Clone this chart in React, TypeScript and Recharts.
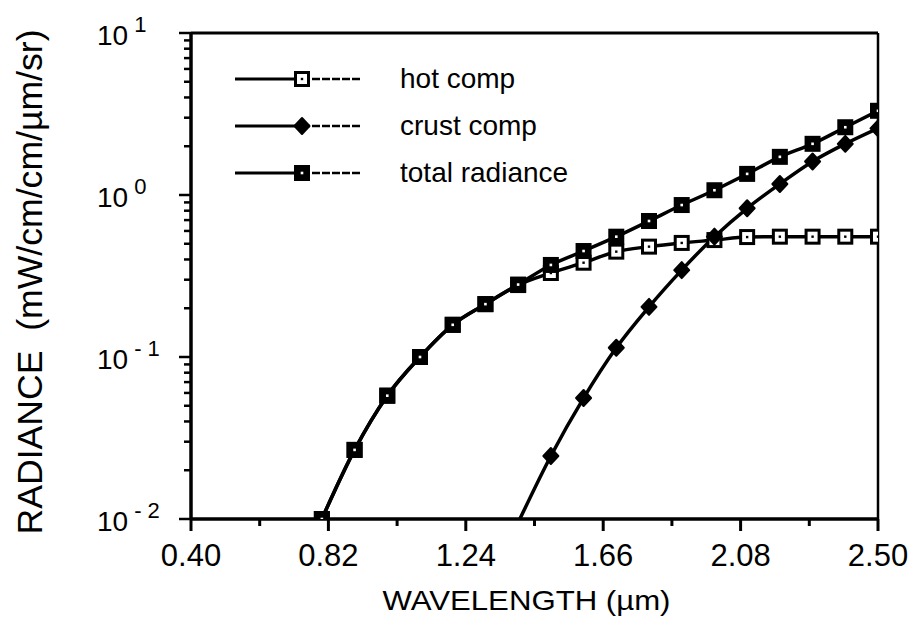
import React from 'react';
import { LineChart, Line, XAxis, YAxis, ReferenceLine, Legend } from 'recharts';

const FONT = '"Liberation Sans", Arial, Helvetica, sans-serif';

// wavelength (µm)
const wavelengths = [0.8, 0.9, 1.0, 1.1, 1.2, 1.3, 1.4, 1.5, 1.6, 1.7, 1.8, 1.9, 2.0, 2.1, 2.2, 2.3, 2.4, 2.5];
// radiance (mW/cm/cm/µm/sr)
const hotComp = [0.010, 0.0267, 0.0577, 0.100, 0.158, 0.212, 0.278, 0.330, 0.382, 0.447, 0.480, 0.506, 0.527, 0.550, 0.553, 0.553, 0.553, 0.553];
const crustComp = [null, null, null, null, null, null, 0.0095, 0.0245, 0.0558, 0.114, 0.204, 0.344, 0.553, 0.828, 1.17, 1.61, 2.07, 2.58];
const totalRadiance = [0.010, 0.0267, 0.0577, 0.100, 0.158, 0.212, 0.280, 0.370, 0.451, 0.553, 0.691, 0.867, 1.07, 1.35, 1.72, 2.07, 2.62, 3.31];

const seriesKeys = ['hot', 'crust', 'total'];
const seriesNames = ['hot comp', 'crust comp', 'total radiance'];

const xMajorTicks = [0.4, 0.82, 1.24, 1.66, 2.08, 2.5];
const xMajorLabels = ['0.40', '0.82', '1.24', '1.66', '2.08', '2.50'];
const xMinorTicks = [0.61, 1.03, 1.45, 1.87, 2.29];

const yMajorTicks = [0.01, 0.1, 1, 10];
const yMajorExponents = ['- 2', '- 1', '0', '1'];
const yMinorTicks = [0.02, 0.03, 0.04, 0.05, 0.06, 0.07, 0.08, 0.09, 0.2, 0.3, 0.4, 0.5, 0.6, 0.7, 0.8, 0.9, 2, 3, 4, 5, 6, 7, 8, 9];

const Y_DOMAIN: [number, number] = [0.01, 10];
const X_DOMAIN: [number, number] = [0.4, 2.5];

const data = wavelengths.map((x, i) => ({
  x,
  hot: hotComp[i],
  crust: crustComp[i],
  total: totalRadiance[i],
}));

const xTicks = [...xMajorTicks, ...xMinorTicks].sort((a, b) => a - b);
const yTicks = [...yMajorTicks, ...yMinorTicks].sort((a, b) => a - b);

const findIdx = (arr: number[], v: number) => arr.findIndex((t) => Math.abs(t - v) < 1e-9);

const XTick = (props: any) => {
  const { x, y, payload } = props;
  const mi = findIdx(xMajorTicks, payload.value);
  const major = mi >= 0;
  return (
    <g>
      <line x1={x} x2={x} y1={y} y2={y + (major ? 12 : 7)} stroke="#000" strokeWidth={3} />
      {major && (
        <text x={x} y={y + 47} textAnchor="middle" fontFamily={FONT} fontSize={31} fill="#000">
          {xMajorLabels[mi]}
        </text>
      )}
    </g>
  );
};

const YTick = (props: any) => {
  const { x, y, payload } = props;
  const mi = findIdx(yMajorTicks, payload.value);
  const major = mi >= 0;
  return (
    <g>
      <line x1={x - (major ? 12 : 7)} x2={x} y1={y} y2={y} stroke="#000" strokeWidth={2.5} />
      {major && (
        <text x={x - 94} y={y + 12} fontFamily={FONT} fontSize={28} fill="#000">
          10
          <tspan dx={6} dy={-13} fontSize={22}>{yMajorExponents[mi]}</tspan>
        </text>
      )}
    </g>
  );
};

const HotMarker = ({ cx, cy }: { cx: number; cy: number }) => (
  <g>
    <rect x={cx - 6.5} y={cy - 6.5} width={13} height={13} fill="#fff" stroke="#000" strokeWidth={3} />
    <rect x={cx - 1.2} y={cy - 1.2} width={2.4} height={2.4} fill="#000" />
  </g>
);
const CrustMarker = ({ cx, cy }: { cx: number; cy: number }) => (
  <path d={`M${cx},${cy - 8} L${cx + 7.5},${cy} L${cx},${cy + 8} L${cx - 7.5},${cy} Z`} fill="#000" stroke="#000" strokeWidth={2} strokeLinejoin="round" />
);
const TotalMarker = ({ cx, cy }: { cx: number; cy: number }) => (
  <g>
    <rect x={cx - 8} y={cy - 8} width={16} height={16} fill="#000" />
    <rect x={cx - 1.3} y={cy - 1.3} width={2.6} height={2.6} fill="#fff" />
  </g>
);

const makeDot = (key: string, Marker: any) => (props: any) => {
  const { cx, cy, index, payload } = props;
  const v = payload ? payload[key] : null;
  if (cx == null || cy == null || v == null || v < Y_DOMAIN[0]) return <g key={`${key}-${index}`} />;
  return (
    <g key={`${key}-${index}`}>
      <Marker cx={cx} cy={cy} />
    </g>
  );
};

const markerFor: Record<string, any> = { hot: HotMarker, crust: CrustMarker, total: TotalMarker };

const renderLegend = () => (
  <svg width={330} height={150} style={{ overflow: 'visible', display: 'block' }}>
    {seriesKeys.map((key, i) => {
      const cy = 20 + i * 47;
      const M = markerFor[key];
      return (
        <g key={key}>
          <line x1={0} x2={67} y1={cy} y2={cy} stroke="#000" strokeWidth={3} />
          <line x1={67} x2={125} y1={cy} y2={cy} stroke="#000" strokeWidth={2.5} strokeDasharray="8 2" />
          <M cx={67} cy={cy} />
          <text x={165} y={cy + 9} fontFamily={FONT} fontSize={28} fill="#000">
            {seriesNames[i]}
          </text>
        </g>
      );
    })}
  </svg>
);

const XTitle = (props: any) => {
  const vb = props.viewBox || { x: 0, y: 0, width: 0, height: 0 };
  return (
    <text
      x={vb.x + vb.width / 2 - 8}
      y={vb.y + 91}
      textAnchor="middle"
      fontFamily={FONT}
      fontSize={28}
      fill="#000"
      textLength={288}
      lengthAdjust="spacingAndGlyphs"
    >
      WAVELENGTH (µm)
    </text>
  );
};

const YTitle = (props: any) => {
  const vb = props.viewBox || { x: 0, y: 0, width: 0, height: 0 };
  const cx = 34;
  const cy = vb.y + vb.height / 2 + 6;
  return (
    <text
      transform={`translate(${cx},${cy}) rotate(-90)`}
      textAnchor="middle"
      fontFamily={FONT}
      fontSize={35}
      fill="#000"
      textLength={505}
      lengthAdjust="spacingAndGlyphs"
      style={{ whiteSpace: 'pre' }}
    >
      {'RADIANCE  (mW/cm/cm/µm/sr)'}
    </text>
  );
};

export default function App() {
  return (
    <div style={{ width: 909, height: 620, background: '#fff' }}>
      <LineChart width={909} height={620} data={data} margin={{ top: 25, right: 39, bottom: 0, left: 0 }}>
        <XAxis
          dataKey="x"
          type="number"
          domain={X_DOMAIN}
          ticks={xTicks}
          interval={0}
          tickSize={0}
          tickMargin={0}
          tickLine={false}
          tick={XTick}
          axisLine={{ stroke: '#000', strokeWidth: 3.5 }}
          height={109}
          allowDataOverflow
          label={{ content: XTitle }}
        />
        <YAxis
          type="number"
          scale="log"
          domain={Y_DOMAIN}
          ticks={yTicks}
          interval={0}
          tickSize={0}
          tickMargin={0}
          tickLine={false}
          tick={YTick}
          axisLine={{ stroke: '#000', strokeWidth: 3.5 }}
          width={183}
          allowDataOverflow
          label={{ content: YTitle }}
        />
        <ReferenceLine y={Y_DOMAIN[1]} stroke="#000" strokeWidth={3} />
        <ReferenceLine x={X_DOMAIN[1]} stroke="#000" strokeWidth={2.5} />
        <Legend
          content={renderLegend}
          layout="horizontal"
          verticalAlign="middle"
          align="center"
          wrapperStyle={{ left: 227, top: 51, width: 330, height: 150 }}
        />
        <Line
          name={seriesNames[0]}
          dataKey="hot"
          type="monotone"
          stroke="#000"
          strokeWidth={3.5}
          dot={makeDot('hot', HotMarker)}
          activeDot={false}
          isAnimationActive={false}
        />
        <Line
          name={seriesNames[1]}
          dataKey="crust"
          type="monotone"
          stroke="#000"
          strokeWidth={3.5}
          dot={makeDot('crust', CrustMarker)}
          activeDot={false}
          isAnimationActive={false}
        />
        <Line
          name={seriesNames[2]}
          dataKey="total"
          type="monotone"
          stroke="#000"
          strokeWidth={3.5}
          dot={makeDot('total', TotalMarker)}
          activeDot={false}
          isAnimationActive={false}
        />
      </LineChart>
    </div>
  );
}
